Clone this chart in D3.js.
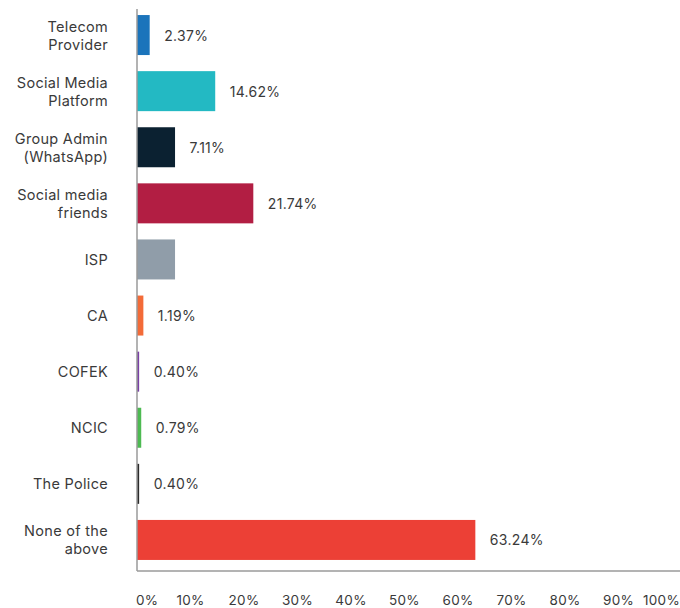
<!DOCTYPE html>
<html>
<head>
<meta charset="utf-8">
<script src="https://cdn.jsdelivr.net/npm/d3@7"></script>
<style>
  html, body { margin: 0; padding: 0; background: #fff; }
  svg { display: block; }
  text { font-family: Inter, "Noto Sans", sans-serif; fill: #3a3a3a; }
</style>
</head>
<body>
<svg id="chart" width="680" height="608"></svg>
<script>
// Category labels (line-broken as drawn)
const categories = [
  ["Telecom", "Provider"],
  ["Social Media", "Platform"],
  ["Group Admin", "(WhatsApp)"],
  ["Social media", "friends"],
  ["ISP"],
  ["CA"],
  ["COFEK"],
  ["NCIC"],
  ["The Police"],
  ["None of the", "above"]
];
// Share of respondents (%)
const values = [2.37, 14.62, 7.11, 21.74, 7.11, 1.19, 0.40, 0.79, 0.40, 63.24];
// Which bars carry a value label
const showLabel = [true, true, true, true, false, true, true, true, true, true];
const barColors = ["#1b74bb", "#23b9c3", "#0b2131", "#b21e43", "#909da9",
                   "#f36b38", "#7a40a6", "#4dba52", "#2b2b2b", "#ec4036"];
const tickValues = [0, 10, 20, 30, 40, 50, 60, 70, 80, 90, 100];

const svg = d3.select("#chart");
const x0 = 137, axisY = 571;

const x = d3.scaleLinear().domain([0, 100]).range([x0, x0 + 535]);
const y = d3.scaleBand()
  .domain(d3.range(categories.length))
  .range([7, 568])
  .paddingInner(0.287)
  .paddingOuter(0.1435);

// Bars
svg.append("g").selectAll("rect")
  .data(values)
  .join("rect")
  .attr("x", x(0))
  .attr("y", (d, i) => y(i))
  .attr("width", d => x(d) - x(0))
  .attr("height", y.bandwidth())
  .attr("fill", (d, i) => barColors[i]);

// Value labels
svg.append("g").selectAll("text")
  .data(values.map((v, i) => ({ v, i })).filter(d => showLabel[d.i]))
  .join("text")
  .attr("x", d => x(d.v) + 14.5)
  .attr("y", d => y(d.i) + y.bandwidth() / 2)
  .attr("dominant-baseline", "central")
  .style("font-size", "14px")
  .style("letter-spacing", "0.3px")
  .text(d => d.v.toFixed(2) + "%");

// Category labels
const cat = svg.append("g").selectAll("text")
  .data(categories)
  .join("text")
  .attr("text-anchor", "end")
  .style("font-size", "14.5px")
  .style("letter-spacing", "0.3px")
  .attr("transform", (d, i) => `translate(108,${y(i) + y.bandwidth() / 2})`);
cat.selectAll("tspan")
  .data(d => d.map((line, k) => ({ line, k, n: d.length })))
  .join("tspan")
  .attr("x", 0)
  .attr("y", d => (d.k - (d.n - 1) / 2) * 18)
  .attr("dominant-baseline", "central")
  .text(d => d.line);

// Axis lines
svg.append("line")
  .attr("x1", x0).attr("x2", x0)
  .attr("y1", 9).attr("y2", axisY)
  .attr("stroke", "#9a9a9a").attr("stroke-width", 1.5);
svg.append("line")
  .attr("x1", x0).attr("x2", 680)
  .attr("y1", axisY).attr("y2", axisY)
  .attr("stroke", "#9a9a9a").attr("stroke-width", 1.5);

// X tick labels (ends kept inside the frame)
svg.append("g").selectAll("text")
  .data(tickValues)
  .join("text")
  .attr("x", d => d === 0 ? x(d) - 1 : d === 100 ? 680 : x(d))
  .attr("y", 600)
  .attr("dominant-baseline", "central")
  .attr("text-anchor", d => d === 0 ? "start" : d === 100 ? "end" : "middle")
  .style("font-size", "13.5px")
  .style("letter-spacing", "0.3px")
  .text(d => d + "%");
</script>
</body>
</html>
